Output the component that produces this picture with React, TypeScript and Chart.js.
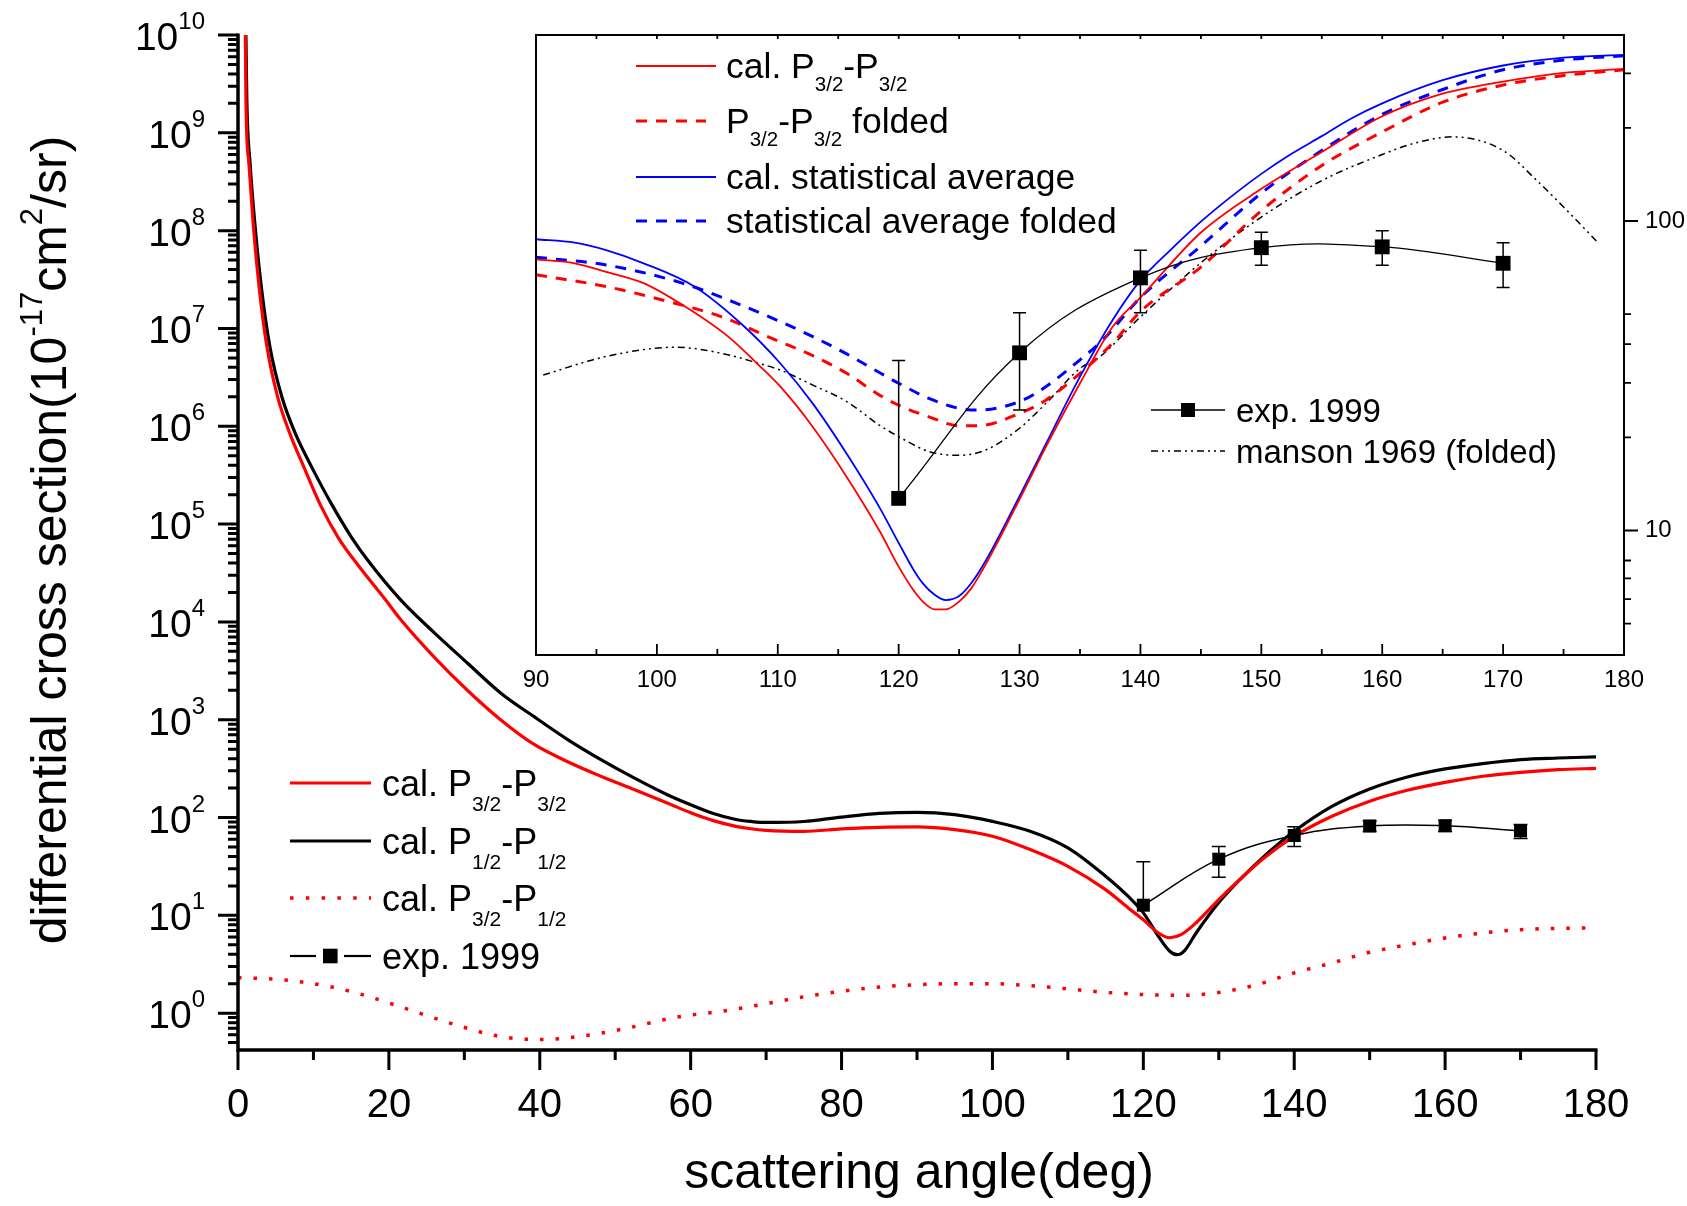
import React, { useEffect, useRef } from "react";
import { Chart, registerables } from "chart.js";

Chart.register(...registerables);

const FONT = '"Liberation Sans", Arial, Helvetica, sans-serif';

// ---------------- main chart data ----------------
const p32p32Angles = [0.95, 1.05, 1.45, 2.04, 2.86, 3.86, 5.25, 6.85, 8.75, 10.9, 13.3, 16, 19.5, 21.5, 26, 30.4, 34.8, 39.2, 43.7, 48.1, 52.5, 56.9, 60, 63, 66, 68, 70, 75, 80, 85, 90, 95, 100, 105, 110, 115, 118, 120, 122, 123.5, 125, 127, 130, 133, 136, 140, 145, 150, 155, 160, 165, 170, 175, 180];
const p32p32Values = [2e10, 2.19e9, 4.79e8, 1.1e8, 2.4e7, 6.3e6, 2.0e6, 8.5e5, 3.8e5, 1.58e5, 7.24e4, 3.72e4, 1.7e4, 1.07e4, 4.37e3, 2.0e3, 1.0e3, 562, 372, 264, 193, 141, 112, 93, 81.3, 76.7, 74, 72.3, 76.4, 79.4, 80.2, 75.2, 64.3, 47, 31.7, 18.3, 11.9, 9.0, 6.6, 5.9, 6.35, 8.4, 14.5, 24.1, 38.6, 64.3, 103, 147, 190, 229, 264, 290, 309, 318];

const p12p12Angles = [1.0, 1.17, 1.61, 2.27, 3.16, 4.26, 5.81, 7.58, 9.79, 12.44, 15.09, 17.1, 21.5, 26, 30.4, 34.8, 39.2, 43.7, 48.1, 52.5, 56.9, 60, 63, 66, 68, 70, 75, 80, 85, 90, 95, 100, 105, 110, 115, 118, 120, 122, 123.5, 124.5, 125.5, 127, 130, 133, 136, 140, 145, 150, 155, 160, 165, 170, 175, 180];
const p12p12Values = [2e10, 2.19e9, 4.79e8, 1.1e8, 2.4e7, 6.3e6, 2.0e6, 8.5e5, 3.8e5, 1.58e5, 7.24e4, 4.37e4, 1.7e4, 7.76e3, 3.8e3, 1.88e3, 1.08e3, 627, 391, 254, 171, 135, 110, 95.5, 91.2, 89, 91, 101, 110, 113, 107, 91.4, 72.3, 48.9, 25.1, 15.6, 10.6, 6.1, 4.3, 3.96, 4.39, 6.6, 13.5, 24, 40.1, 72.3, 130, 196, 260, 314, 356, 391, 406, 417];

const p32p12Angles = [0, 4.4, 8.5, 12.6, 16.7, 20.7, 28.8, 34.7, 40, 45.3, 51.3, 57.8, 65, 70, 75, 80, 85, 90, 95, 100, 105, 110, 115, 120, 125, 130, 135, 140, 145, 150, 155, 160, 165, 170, 175, 180];
const p32p12Values = [2.3, 2.24, 2.08, 1.84, 1.53, 1.22, 0.762, 0.579, 0.537, 0.579, 0.695, 0.9, 1.07, 1.25, 1.47, 1.67, 1.85, 1.95, 2.0, 2.0, 1.91, 1.77, 1.63, 1.55, 1.52, 1.63, 1.95, 2.58, 3.26, 4.19, 5.0, 5.87, 6.6, 7.14, 7.36, 7.43];

const expAngles = [120, 130, 140, 150, 160, 170];
const expValues = [12.7, 37.5, 65.5, 82, 82.5, 73];
const expErrors = [22.7, 13, 15, 10, 10.5, 12];

// ---------------- inset data ----------------
const insetRedAngles = [90, 93.2, 95.8, 98.9, 102.1, 105.9, 108.4, 110.2, 112.9, 115.7, 118.4, 120, 121.2, 122, 123, 123.9, 125, 126, 127.25, 130, 132.2, 135, 137.7, 140, 145, 150, 155, 160, 165, 170, 175, 180];
const insetRedValues = [75.2, 73, 68.5, 63, 53.6, 42.3, 34.3, 29.2, 21.6, 14.9, 10.0, 7.64, 6.43, 5.89, 5.56, 5.56, 5.89, 6.5, 7.83, 12.6, 18.7, 29.9, 45.5, 56.6, 91.8, 127, 167, 218, 258, 282, 301, 310];

const insetRedFoldedAngles = [90, 95.8, 101.5, 105.3, 109.8, 112.9, 115.7, 118.4, 120, 122.5, 125, 126.6, 130, 132.2, 135, 137.7, 140, 145, 150, 155, 160, 165, 170, 175, 180];
const insetRedFoldedValues = [67, 61.4, 54.2, 49.1, 41.3, 36.7, 32.2, 27.4, 25.4, 23.3, 21.8, 21.8, 23.9, 26.4, 32.2, 40.3, 51, 71, 108, 151, 194, 242, 275, 295, 308];

const insetBlueAngles = [90, 93.2, 95.8, 98.9, 103.1, 107.2, 110.2, 112.9, 115.7, 118.4, 120, 121.2, 122, 123, 123.9, 125, 126, 127.25, 130, 132.2, 135, 137.7, 140, 142.5, 145, 147.4, 150, 152.4, 155, 157.4, 160, 165, 170, 175, 180];
const insetBlueValues = [87.3, 85.1, 80.5, 73, 61.4, 45.7, 34.7, 25.7, 17.7, 11.9, 9.12, 7.5, 6.75, 6.19, 5.96, 6.14, 6.75, 8.04, 12.9, 19.1, 31.4, 47.9, 64.3, 80.7, 99.5, 119, 142, 164, 188, 214, 240, 285, 318, 337, 344];

const insetBlueFoldedAngles = [90, 95.8, 102.1, 106.6, 110.2, 112.9, 115.7, 118.4, 120, 122.5, 125, 126.6, 130, 132.2, 135, 136.9, 140, 145, 150, 155, 160, 165, 170, 175, 180];
const insetBlueFoldedValues = [76.4, 72.1, 63, 54.2, 47.3, 42.3, 37.2, 32.4, 29.9, 26.7, 24.8, 24.5, 26.1, 29.2, 35.6, 41.3, 56.6, 83, 123, 169, 221, 266, 308, 331, 342];

const mansonAngles = [90.6, 95.8, 101.5, 105.3, 108.4, 110.2, 112.9, 115.7, 118.4, 120, 122.5, 125, 127.2, 130, 132.2, 135, 136.6, 140, 145, 150, 155, 160, 162.6, 165.8, 170, 172.8, 175, 177.9];
const mansonValues = [31.8, 36.5, 39.1, 37.4, 34.7, 33, 29.5, 26.1, 21.9, 20.1, 18, 17.5, 18.2, 21.4, 25.8, 33.4, 36.3, 49, 73.3, 103, 135, 164, 178, 187, 169, 135, 111, 84.7];

// ---------------- ticks ----------------
const mainXTicks = [0, 20, 40, 60, 80, 100, 120, 140, 160, 180];
const mainXMinorTicks = [10, 30, 50, 70, 90, 110, 130, 150, 170];
const mainYDecades = [0, 1, 2, 3, 4, 5, 6, 7, 8, 9, 10];
const mainYMinorMultipliers = [2, 3, 4, 5, 6, 7, 8, 9];
const insetXTicks = [90, 100, 110, 120, 130, 140, 150, 160, 170, 180];
const insetXMinorTicks = [95, 105, 115, 125, 135, 145, 155, 165, 175];
const insetYLabeled = [10, 100];
const insetYMinor = [5, 6, 7, 8, 20, 30, 40, 50, 200, 300];

const pts = (xs: number[], ys: number[]) => xs.map((x, i) => ({ x, y: ys[i] }));

type Part = { t: string; s: number; dy: number };
function rich(ctx: CanvasRenderingContext2D, x: number, y: number, parts: Part[], align: "left" | "center" | "right") {
  let total = 0;
  const widths: number[] = [];
  for (const p of parts) {
    ctx.font = `${p.s}px ${FONT}`;
    const w = ctx.measureText(p.t).width;
    widths.push(w);
    total += w;
  }
  let cx = align === "left" ? x : align === "center" ? x - total / 2 : x - total;
  ctx.textAlign = "left";
  ctx.textBaseline = "alphabetic";
  parts.forEach((p, i) => {
    ctx.font = `${p.s}px ${FONT}`;
    ctx.fillText(p.t, cx, y + p.dy);
    cx += widths[i];
  });
}

function legendLine(ctx: CanvasRenderingContext2D, x1: number, x2: number, y: number, color: string, lw: number, dash: number[]) {
  ctx.save();
  ctx.strokeStyle = color;
  ctx.lineWidth = lw;
  ctx.lineCap = "butt";
  ctx.setLineDash(dash);
  ctx.beginPath();
  ctx.moveTo(x1, y);
  ctx.lineTo(x2, y);
  ctx.stroke();
  ctx.restore();
}

function makeErrorBars(lineWidth: number, cap: number) {
  return {
    id: "errorBars",
    afterDatasetsDraw(chart: any) {
      const { ctx, chartArea } = chart;
      const xs = chart.scales.x;
      const ys = chart.scales.y;
      ctx.save();
      ctx.beginPath();
      ctx.rect(chartArea.left, chartArea.top, chartArea.right - chartArea.left, chartArea.bottom - chartArea.top);
      ctx.clip();
      ctx.strokeStyle = "#000";
      ctx.lineWidth = lineWidth;
      ctx.beginPath();
      expAngles.forEach((a, i) => {
        const v = expValues[i];
        const e = expErrors[i];
        const px = xs.getPixelForValue(a);
        const pTop = ys.getPixelForValue(v + e);
        const pMid = ys.getPixelForValue(v);
        const hasLow = v - e > 0;
        const pBot = hasLow ? ys.getPixelForValue(v - e) : pMid;
        ctx.moveTo(px, pTop);
        ctx.lineTo(px, pBot);
        ctx.moveTo(px - cap, pTop);
        ctx.lineTo(px + cap, pTop);
        if (hasLow) {
          ctx.moveTo(px - cap, pBot);
          ctx.lineTo(px + cap, pBot);
        }
      });
      ctx.stroke();
      ctx.restore();
    },
  };
}

const mainDecor = {
  id: "mainDecor",
  afterDraw(chart: any) {
    const ctx: CanvasRenderingContext2D = chart.ctx;
    const xs = chart.scales.x;
    const ys = chart.scales.y;
    const { left, right, top, bottom } = chart.chartArea;
    ctx.save();
    ctx.strokeStyle = "#000";
    ctx.fillStyle = "#000";
    ctx.lineCap = "butt";
    ctx.lineWidth = 3.5;
    ctx.beginPath();
    ctx.moveTo(left, top - 1.5);
    ctx.lineTo(left, bottom + 1.75);
    ctx.moveTo(left - 1.75, bottom);
    ctx.lineTo(right + 1.5, bottom);
    ctx.stroke();
    ctx.lineWidth = 3;
    ctx.beginPath();
    mainXTicks.forEach((v) => {
      const px = xs.getPixelForValue(v);
      ctx.moveTo(px, bottom);
      ctx.lineTo(px, bottom + 20);
    });
    mainXMinorTicks.forEach((v) => {
      const px = xs.getPixelForValue(v);
      ctx.moveTo(px, bottom);
      ctx.lineTo(px, bottom + 10);
    });
    mainYDecades.forEach((n) => {
      const py = ys.getPixelForValue(Math.pow(10, n));
      ctx.moveTo(left - 20, py);
      ctx.lineTo(left, py);
    });
    for (let n = -1; n < 10; n++) {
      mainYMinorMultipliers.forEach((k) => {
        const v = k * Math.pow(10, n);
        if (v < ys.min || v > ys.max) return;
        const py = ys.getPixelForValue(v);
        ctx.moveTo(left - 10, py);
        ctx.lineTo(left, py);
      });
    }
    ctx.stroke();
    ctx.font = `40px ${FONT}`;
    ctx.textAlign = "center";
    ctx.textBaseline = "alphabetic";
    mainXTicks.forEach((v) => {
      ctx.fillText(String(v), xs.getPixelForValue(v), 1117);
    });
    mainYDecades.forEach((n) => {
      const py = ys.getPixelForValue(Math.pow(10, n));
      rich(ctx, 205, py + 15, [
        { t: "10", s: 39, dy: 0 },
        { t: String(n), s: 24, dy: -21 },
      ], "right");
    });
    ctx.font = `50px ${FONT}`;
    ctx.textAlign = "center";
    ctx.fillText("scattering angle(deg)", 919, 1188);
    ctx.save();
    ctx.translate(66, 540);
    ctx.rotate(-Math.PI / 2);
    rich(ctx, 0, 0, [
      { t: "differential cross section(10", s: 50, dy: 0 },
      { t: "-17", s: 31, dy: -24 },
      { t: "cm", s: 50, dy: 0 },
      { t: "2", s: 31, dy: -24 },
      { t: "/sr)", s: 50, dy: 0 },
    ], "center");
    ctx.restore();

    const rows = [783, 841, 898, 956];
    const lx1 = 290, lx2 = 371, tx = 382;
    legendLine(ctx, lx1, lx2, rows[0], "#ff0000", 3.2, []);
    legendLine(ctx, lx1, lx2, rows[1], "#000000", 3.2, []);
    legendLine(ctx, lx1, lx2, rows[2], "#ff0000", 3.5, [3.5, 12.3]);
    legendLine(ctx, lx1, 316, rows[3], "#000000", 2.2, []);
    legendLine(ctx, 344, lx2, rows[3], "#000000", 2.2, []);
    ctx.fillStyle = "#000";
    ctx.fillRect(323, rows[3] - 7.3, 14.6, 14.6);
    const sub = (t: string): Part => ({ t, s: 21, dy: 15 });
    const big = (t: string): Part => ({ t, s: 36, dy: 0 });
    rich(ctx, tx, rows[0] + 13, [big("cal. P"), sub("3/2"), big("-P"), sub("3/2")], "left");
    rich(ctx, tx, rows[1] + 13, [big("cal. P"), sub("1/2"), big("-P"), sub("1/2")], "left");
    rich(ctx, tx, rows[2] + 13, [big("cal. P"), sub("3/2"), big("-P"), sub("1/2")], "left");
    rich(ctx, tx, rows[3] + 13, [big("exp. 1999")], "left");
    ctx.restore();
  },
};

const INSET_LEFT = 500;
const MANSON_DASH = [7, 4, 2, 4, 2, 4];
const FOLD_DASH = [11, 9];

const insetDecor = {
  id: "insetDecor",
  beforeDraw(chart: any) {
    const { ctx, chartArea } = chart;
    ctx.save();
    ctx.fillStyle = "#ffffff";
    ctx.fillRect(chartArea.left, chartArea.top, chartArea.right - chartArea.left, chartArea.bottom - chartArea.top);
    ctx.restore();
  },
  afterDraw(chart: any) {
    const ctx: CanvasRenderingContext2D = chart.ctx;
    const xs = chart.scales.x;
    const ys = chart.scales.y;
    const { left, right, top, bottom } = chart.chartArea;
    ctx.save();
    ctx.strokeStyle = "#000";
    ctx.fillStyle = "#000";
    ctx.lineWidth = 2;
    ctx.strokeRect(left, top, right - left, bottom - top);
    ctx.lineWidth = 1.8;
    ctx.beginPath();
    insetXTicks.forEach((v) => {
      const px = xs.getPixelForValue(v);
      ctx.moveTo(px, bottom);
      ctx.lineTo(px, bottom - 11);
      ctx.moveTo(px, top);
      ctx.lineTo(px, top + 4);
    });
    insetXMinorTicks.forEach((v) => {
      const px = xs.getPixelForValue(v);
      ctx.moveTo(px, bottom);
      ctx.lineTo(px, bottom - 6);
      ctx.moveTo(px, top);
      ctx.lineTo(px, top + 4);
    });
    insetYLabeled.forEach((v) => {
      const py = ys.getPixelForValue(v);
      ctx.moveTo(right, py);
      ctx.lineTo(right + 14, py);
    });
    insetYMinor.forEach((v) => {
      const py = ys.getPixelForValue(v);
      ctx.moveTo(right, py);
      ctx.lineTo(right + 7, py);
    });
    ctx.stroke();
    ctx.font = `24px ${FONT}`;
    ctx.textAlign = "center";
    ctx.textBaseline = "alphabetic";
    insetXTicks.forEach((v) => {
      ctx.fillText(String(v), xs.getPixelForValue(v), 687);
    });
    ctx.textAlign = "left";
    ctx.textBaseline = "middle";
    insetYLabeled.forEach((v) => {
      ctx.fillText(String(v), right + 21, ys.getPixelForValue(v));
    });

    const rows = [66, 121, 177, 221];
    const x1 = 636 - INSET_LEFT;
    const tx = 726 - INSET_LEFT;
    legendLine(ctx, x1, 716 - INSET_LEFT, rows[0], "#ff0000", 1.8, []);
    legendLine(ctx, x1, 706 - INSET_LEFT, rows[1], "#ff0000", 3, FOLD_DASH);
    legendLine(ctx, x1, 716 - INSET_LEFT, rows[2], "#0000ff", 1.8, []);
    legendLine(ctx, x1, 706 - INSET_LEFT, rows[3], "#0000ff", 3, FOLD_DASH);
    ctx.fillStyle = "#000";
    const big = (t: string): Part => ({ t, s: 35.5, dy: 0 });
    const sub = (t: string): Part => ({ t, s: 20.5, dy: 13 });
    rich(ctx, tx, rows[0] + 12, [big("cal. P"), sub("3/2"), big("-P"), sub("3/2")], "left");
    rich(ctx, tx, rows[1] + 12, [big("P"), sub("3/2"), big("-P"), sub("3/2"), big(" folded")], "left");
    rich(ctx, tx, rows[2] + 12, [big("cal. statistical average")], "left");
    rich(ctx, tx, rows[3] + 12, [big("statistical average folded")], "left");

    const ex1 = 1151 - INSET_LEFT, ex2 = 1225 - INSET_LEFT, etx = 1236 - INSET_LEFT;
    legendLine(ctx, ex1, ex2, 410, "#000000", 1.5, []);
    ctx.fillStyle = "#000";
    ctx.fillRect(1188 - INSET_LEFT - 7, 410 - 7, 14, 14);
    legendLine(ctx, ex1, ex2, 451, "#000000", 1.5, MANSON_DASH);
    const mid = (t: string): Part => ({ t, s: 33, dy: 0 });
    rich(ctx, etx, 410 + 12, [mid("exp. 1999")], "left");
    rich(ctx, etx, 451 + 12, [mid("manson 1969 (folded)")], "left");
    ctx.restore();
  },
};

export default function App() {
  const mainRef = useRef<HTMLCanvasElement | null>(null);
  const insetRef = useRef<HTMLCanvasElement | null>(null);

  useEffect(() => {
    if (!mainRef.current || !insetRef.current) return;
    const mainChart = new Chart(mainRef.current, {
      type: "line",
      data: {
        datasets: [
          {
            label: "exp. 1999",
            data: pts(expAngles, expValues),
            borderColor: "#000",
            borderWidth: 1.5,
            tension: 0.4,
            pointStyle: "rect",
            pointRadius: 9.2,
            pointBackgroundColor: "#000",
            pointBorderColor: "#000",
            pointBorderWidth: 0,
            fill: false,
          },
          {
            label: "cal. P3/2-P3/2",
            data: pts(p32p32Angles, p32p32Values),
            borderColor: "#ff0000",
            borderWidth: 3.2,
            pointRadius: 0,
            cubicInterpolationMode: "monotone",
            fill: false,
          },
          {
            label: "cal. P1/2-P1/2",
            data: pts(p12p12Angles, p12p12Values),
            borderColor: "#000000",
            borderWidth: 3.2,
            pointRadius: 0,
            cubicInterpolationMode: "monotone",
            fill: false,
          },
          {
            label: "cal. P3/2-P1/2",
            data: pts(p32p12Angles, p32p12Values),
            borderColor: "#ff0000",
            borderWidth: 3.5,
            borderDash: [3.5, 12],
            borderCapStyle: "butt",
            pointRadius: 0,
            cubicInterpolationMode: "monotone",
            fill: false,
          },
        ],
      },
      options: {
        animation: false,
        responsive: false,
        maintainAspectRatio: false,
        devicePixelRatio: 1,
        events: [],
        layout: { padding: { left: 238, top: 35, right: 91, bottom: 156 } },
        plugins: { legend: { display: false }, tooltip: { enabled: false }, title: { display: false } },
        scales: {
          x: { type: "linear", min: 0, max: 180, display: false },
          y: { type: "logarithmic", min: 0.42, max: 1e10, display: false },
        },
      },
      plugins: [makeErrorBars(1.5, 7), mainDecor],
    } as any);

    const insetChart = new Chart(insetRef.current, {
      type: "line",
      data: {
        datasets: [
          {
            label: "exp. 1999",
            data: pts(expAngles, expValues),
            borderColor: "#000",
            borderWidth: 1.3,
            tension: 0.4,
            pointStyle: "rect",
            pointRadius: 10.5,
            pointBackgroundColor: "#000",
            pointBorderColor: "#000",
            pointBorderWidth: 0,
            fill: false,
          },
          {
            label: "cal. P3/2-P3/2",
            data: pts(insetRedAngles, insetRedValues),
            borderColor: "#ff0000",
            borderWidth: 1.8,
            pointRadius: 0,
            cubicInterpolationMode: "monotone",
            fill: false,
          },
          {
            label: "cal. statistical average",
            data: pts(insetBlueAngles, insetBlueValues),
            borderColor: "#0000ff",
            borderWidth: 1.8,
            pointRadius: 0,
            cubicInterpolationMode: "monotone",
            fill: false,
          },
          {
            label: "P3/2-P3/2 folded",
            data: pts(insetRedFoldedAngles, insetRedFoldedValues),
            borderColor: "#ff0000",
            borderWidth: 3,
            borderDash: FOLD_DASH,
            pointRadius: 0,
            cubicInterpolationMode: "monotone",
            fill: false,
          },
          {
            label: "statistical average folded",
            data: pts(insetBlueFoldedAngles, insetBlueFoldedValues),
            borderColor: "#0000ff",
            borderWidth: 3,
            borderDash: FOLD_DASH,
            pointRadius: 0,
            cubicInterpolationMode: "monotone",
            fill: false,
          },
          {
            label: "manson 1969 (folded)",
            data: pts(mansonAngles, mansonValues),
            borderColor: "#000000",
            borderWidth: 1.5,
            borderDash: MANSON_DASH,
            pointRadius: 0,
            cubicInterpolationMode: "monotone",
            fill: false,
          },
        ],
      },
      options: {
        animation: false,
        responsive: false,
        maintainAspectRatio: false,
        devicePixelRatio: 1,
        events: [],
        layout: { padding: { left: 36, top: 35, right: 63, bottom: 65 } },
        plugins: { legend: { display: false }, tooltip: { enabled: false }, title: { display: false } },
        scales: {
          x: { type: "linear", min: 90, max: 180, display: false },
          y: { type: "logarithmic", min: 3.96, max: 399, display: false },
        },
      },
      plugins: [insetDecor, makeErrorBars(1.5, 6.5)],
    } as any);

    return () => {
      mainChart.destroy();
      insetChart.destroy();
    };
  }, []);

  return (
    <div style={{ position: "absolute", left: 0, top: 0, width: 1687, height: 1206, background: "#fff", overflow: "hidden" }}>
      <canvas ref={mainRef} width={1687} height={1206} style={{ position: "absolute", left: 0, top: 0, width: 1687, height: 1206 }} />
      <canvas ref={insetRef} width={1187} height={720} style={{ position: "absolute", left: INSET_LEFT, top: 0, width: 1187, height: 720 }} />
    </div>
  );
}
